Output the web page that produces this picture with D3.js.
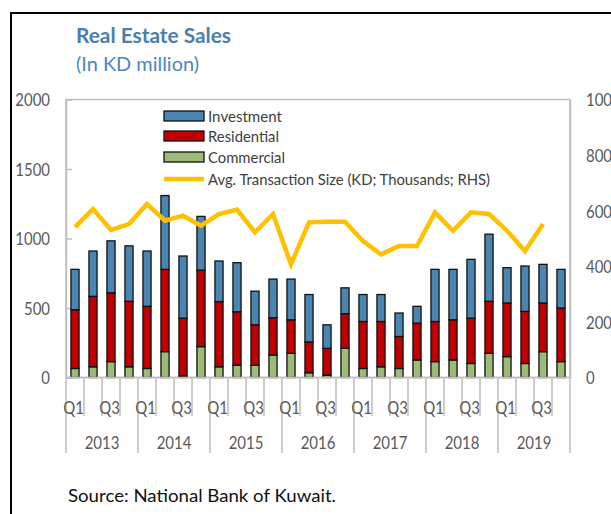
<!DOCTYPE html>
<html><head><meta charset="utf-8">
<script src="https://cdn.jsdelivr.net/npm/d3@7"></script>
<style>html,body{margin:0;padding:0;background:#fff;}svg{display:block;font-family:Lato,sans-serif;}</style>
</head><body><svg id="c" width="611" height="514"></svg>
<script>
const years = ["2013","2014","2015","2016","2017","2018","2019"];
const quarters = ["Q1","Q2","Q3","Q4"];
const categories = years.flatMap(y => quarters.map(q => y + " " + q));
const commercial  = [65,77,114,77,65,186,10,222,77,89,89,162,174,34,17,210,65,77,65,126,114,126,101,174,150,101,186,114];
const residential = [423,507,495,471,447,592,417,551,469,384,290,268,241,222,193,249,338,326,230,265,289,289,326,374,386,375,350,386];
const investment  = [290,326,374,399,398,531,447,386,292,353,242,278,293,341,169,186,194,194,169,121,375,363,423,483,254,326,278,278];
const avgSize     = [541,606,531,552,624,564,582,546,588,604,522,588,407,558,560,560,491,443,473,473,594,528,594,588,528,455,552,null];
const leftTicks = [0,500,1000,1500,2000];
const rightTicks = [0,200,400,600,800,1000];
const seriesNames = ["Investment","Residential","Commercial","Avg. Transaction Size (KD; Thousands; RHS)"];

const svg = d3.select("#c");
const L = 66, R = 570, T = 99.5, B = 377.5;
const SX = 0.83;
const colors = {Commercial:"#9bbb76", Residential:"#c00000", Investment:"#4a86b1", line:"#ffc000"};

// outer border
svg.append("line").attr("x1",10).attr("x2",611).attr("y1",13).attr("y2",13).attr("stroke","#000").attr("stroke-width",2);
svg.append("line").attr("x1",11).attr("x2",11).attr("y1",12).attr("y2",514).attr("stroke","#000").attr("stroke-width",2);

// titles
svg.append("text").attr("x",76).attr("y",43).attr("font-size",21).attr("font-weight","bold").attr("fill","#4a7eae")
  .attr("textLength",155).attr("lengthAdjust","spacingAndGlyphs").text("Real Estate Sales");
svg.append("text").attr("x",76).attr("y",71).attr("font-size",20).attr("fill","#4f86bb")
  .attr("textLength",123).attr("lengthAdjust","spacingAndGlyphs").text("(In KD million)");

const x = d3.scaleBand().domain(categories).range([L,R]).paddingInner(0.55).paddingOuter(0.275);
const y = d3.scaleLinear().domain([0,2000]).range([B,T]);
const yR = d3.scaleLinear().domain([0,1000]).range([B,T]);

// frame
const gray = "#bfbfbf";
svg.append("rect").attr("x",L).attr("y",T).attr("width",R-L).attr("height",B-T).attr("fill","none").attr("stroke",gray).attr("stroke-width",1.5);

// left axis
const gl = svg.append("g").attr("transform",`translate(${L},0)`)
  .call(d3.axisLeft(y).tickValues(leftTicks).tickSize(-6).tickPadding(16).tickFormat(d3.format("d")));
gl.select(".domain").attr("stroke",gray).attr("stroke-width",1.5);
gl.selectAll(".tick line").attr("stroke",gray).attr("stroke-width",1.5);
gl.selectAll(".tick text").attr("font-size",18).attr("font-family","Lato").attr("fill","#595959")
  .attr("x",-16/SX).attr("dy","0.36em").attr("transform",`scale(${SX},1)`);

// right axis
const gr = svg.append("g").attr("transform",`translate(${R},0)`)
  .call(d3.axisRight(yR).tickValues(rightTicks).tickSize(0).tickPadding(16).tickFormat(d3.format("d")));
gr.select(".domain").attr("stroke",gray).attr("stroke-width",1.5);
gr.selectAll(".tick text").attr("font-size",18).attr("font-family","Lato").attr("fill","#595959")
  .attr("x",16/SX).attr("dy","0.36em").attr("transform",`scale(${SX},1)`);

// stacked bars
const rows = categories.map((c,i) => ({cat:c, Commercial:commercial[i], Residential:residential[i], Investment:investment[i]}));
const stack = d3.stack().keys(["Commercial","Residential","Investment"])(rows);
svg.append("g").selectAll("g").data(stack).join("g").attr("fill", d => colors[d.key])
  .selectAll("rect").data(d => d).join("rect")
  .attr("x", d => x(d.data.cat)).attr("width", x.bandwidth())
  .attr("y", d => y(d[1])).attr("height", d => y(d[0]) - y(d[1]))
  .attr("stroke","#111").attr("stroke-width",1.3);

// bottom axis (multi-level)
const step = x.step();
const bx = svg.append("g");
bx.append("line").attr("x1",L).attr("x2",R).attr("y1",B).attr("y2",B).attr("stroke",gray).attr("stroke-width",1.5);
categories.forEach((c,i) => {
  const xl = x(c) - x.paddingOuter()*step;
  bx.append("line").attr("x1",xl).attr("x2",xl).attr("y1",B).attr("y2", i%4===0 ? 453 : 416).attr("stroke",gray).attr("stroke-width",1.5);
});
bx.append("line").attr("x1",R).attr("x2",R).attr("y1",B).attr("y2",453).attr("stroke",gray).attr("stroke-width",1.5);
categories.forEach((c,i) => {
  const q = quarters[i%4];
  if (q === "Q1" || q === "Q3") {
    const cx = x(c) + x.bandwidth()/2;
    bx.append("text").attr("transform",`translate(${cx-1.5},414) scale(${SX},1)`).attr("text-anchor","middle")
      .attr("font-size",18).attr("fill","#595959").text(q);
  }
});
years.forEach((yr,k) => {
  const cx = x(yr+" Q1") - x.paddingOuter()*step + step*2;
  bx.append("text").attr("transform",`translate(${cx},449) scale(${SX},1)`).attr("text-anchor","middle")
    .attr("font-size",18).attr("fill","#595959").text(yr);
});

// line
const line = d3.line().defined(d => d.v != null).x(d => x(d.c) + x.bandwidth()/2).y(d => yR(d.v));
svg.append("path").datum(categories.map((c,i) => ({c, v:avgSize[i]})))
  .attr("d", line).attr("fill","none").attr("stroke",colors.line).attr("stroke-width",4.5).attr("stroke-linejoin","miter");

// legend
const lg = svg.append("g");
const legendY = [116,136,157,179];
const legendW = [74,71,77,282];
seriesNames.forEach((n,i) => {
  if (i < 3) {
    lg.append("rect").attr("x",164).attr("y",legendY[i]-5).attr("width",40).attr("height",10)
      .attr("fill",colors[n]).attr("stroke","#111").attr("stroke-width",1.3);
  } else {
    lg.append("line").attr("x1",164).attr("x2",204).attr("y1",legendY[i]).attr("y2",legendY[i])
      .attr("stroke",colors.line).attr("stroke-width",4.5);
  }
  lg.append("text").attr("x",208).attr("y",legendY[i]+5.5).attr("font-size",16).attr("fill","#404040")
    .attr("textLength",legendW[i]).attr("lengthAdjust","spacingAndGlyphs").text(n);
});

// source
svg.append("text").attr("x",68).attr("y",502).attr("font-size",18).attr("fill","#111")
  .attr("textLength",268).attr("lengthAdjust","spacingAndGlyphs").text("Source: National Bank of Kuwait.");
</script></body></html>
